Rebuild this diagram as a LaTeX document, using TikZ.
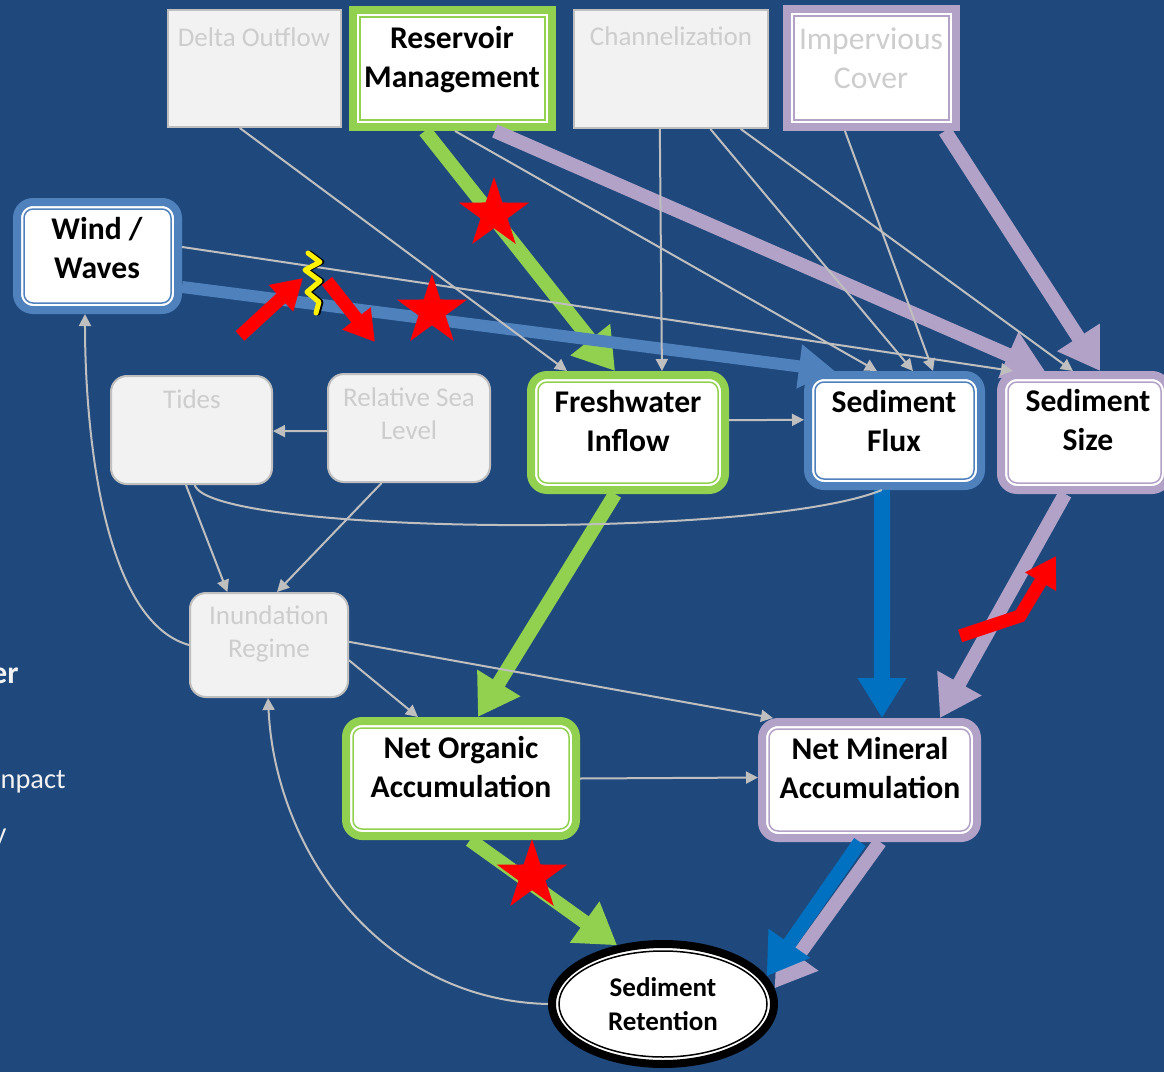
\documentclass[tikz,border=0pt]{standalone}
\usepackage{fontspec}
\setmainfont{Carlito}
\usetikzlibrary{arrows.meta,shapes.geometric,calc}

\definecolor{bg}{HTML}{1F497D}
\definecolor{grn}{HTML}{92D050}
\definecolor{prp}{HTML}{B3A2C7}
\definecolor{wblu}{HTML}{4F81BD}
\definecolor{fblu}{HTML}{0070C0}
\definecolor{lnk}{HTML}{BFBFBF}
\definecolor{pale}{HTML}{F2F2F2}
\definecolor{faint}{RGB}{205,205,205}
\definecolor{sidetext}{HTML}{F2F2F2}

\begin{document}
\begin{tikzpicture}[x=0.5pt,y=-0.5pt,
  fancy/.style={draw=#1, line width=4pt, fill=white, inner sep=0pt, outer sep=2pt},
  roundfancy/.style={fancy=#1, rounded corners=8pt},
  greybox/.style={draw=lnk, line width=1pt, fill=pale, inner sep=0pt, outer sep=0.5pt},
  lbl/.style={font=\fontsize{15.8}{19.5}\selectfont\bfseries, align=center, text=black, inner sep=0pt},
  dim/.style={font=\fontsize{13.5}{16.5}\selectfont, align=center, text=faint, inner sep=0pt},
  sidelbl/.style={font=\fontsize{14.2}{17}\selectfont, text=sidetext, inner sep=0pt, anchor=east},
  link/.style={draw=lnk, line width=1pt, -{Triangle[length=6pt,width=6pt]}},
  barelink/.style={draw=lnk, line width=1pt},
  heavy/.style={draw=#1, line width=7pt, -{Triangle[length=20pt,width=24pt]}},
  redarrow/.style={draw=red, line width=6.5pt, -{Triangle[length=15pt,width=17pt]}},
  redstar/.style={star, star points=5, star point ratio=2.6, fill=red, minimum size=37pt, inner sep=0pt}
]
% background and frame
\fill[bg] (0,0) rectangle (1164,1072);
\useasboundingbox (0,0) rectangle (1164,1072);
\clip (0,0) rectangle (1164,1072);

% fragments of side text
\node[sidelbl, font=\fontsize{15.8}{19}\selectfont\bfseries] (s1) at (19,676) {er};
\node[sidelbl] (s2) at (66,782) {npact};
\node[sidelbl] (s3) at (7,838) {y};

% boxes
\node[greybox, minimum width=86.5pt, minimum height=58.5pt] (delta) at (254.5,68.5) {};
\node[fancy=grn, minimum width=99.5pt, minimum height=58.5pt] (res) at (452.5,68.5) {};
\node[greybox, minimum width=97pt, minimum height=59pt] (chan) at (671,69) {};
\node[fancy=prp, minimum width=84.5pt, minimum height=59pt] (imp) at (871.5,68) {};
\node[roundfancy=wblu, minimum width=80.5pt, minimum height=54pt] (wind) at (97.5,256) {};
\node[greybox, rounded corners=8pt, minimum width=80.5pt, minimum height=54pt] (tides) at (191.5,430) {};
\node[greybox, rounded corners=8pt, minimum width=81pt, minimum height=54pt] (rsl) at (409,428) {};
\node[roundfancy=grn, minimum width=97pt, minimum height=57.5pt] (fresh) at (628,432.5) {};
\node[roundfancy=wblu, minimum width=86.5pt, minimum height=55.5pt] (flux) at (894.5,430.5) {};
\node[roundfancy=prp, minimum width=83.5pt, minimum height=57.5pt] (size) at (1084.5,432.5) {};
\node[greybox, rounded corners=8pt, minimum width=79pt, minimum height=52pt] (inun) at (269,645) {};
\node[roundfancy=grn, minimum width=115pt, minimum height=57.5pt] (org) at (461,778.5) {};
\node[roundfancy=prp, minimum width=107.5pt, minimum height=58pt] (min) at (869.5,780) {};
\node[ellipse, draw=black, line width=4pt, fill=white, inner sep=0pt, outer sep=2pt,
      minimum width=111pt, minimum height=60pt] (ret) at (663,1004) {};

% inner rules of the framed boxes
\foreach \n/\c in {res/grn, imp/prp}
  \draw[\c, line width=0.75pt] ([shift={(5.5pt,5.5pt)}]\n.south west) rectangle ([shift={(-5.5pt,-5.5pt)}]\n.north east);
\foreach \n/\c in {wind/wblu, fresh/grn, flux/wblu, size/prp, org/grn, min/prp}
  \draw[\c, line width=0.75pt, rounded corners=4.5pt] ([shift={(5.5pt,5.5pt)}]\n.south west) rectangle ([shift={(-5.5pt,-5.5pt)}]\n.north east);
\draw[black, line width=0.75pt] (ret.center) ellipse [x radius=52pt, y radius=26.5pt];

% labels
\node[dim] (t-delta) at (254,37) {Delta Outflow};
\node[lbl] (t-res) at (452,60) {Reservoir\\Management};
\node[dim] (t-chan) at (671,36) {Channelization};
\node[dim, font=\fontsize{15.8}{19.5}\selectfont] (t-imp) at (871,58) {Impervious\\Cover};
\node[lbl] (t-wind) at (97,248) {Wind /\\Waves};
\node[dim] (t-tides) at (192,399) {Tides};
\node[dim] (t-rsl) at (409,414) {Relative Sea\\Level};
\node[lbl] (t-fresh) at (628,421) {Freshwater\\Inflow};
\node[lbl] (t-flux) at (894,421) {Sediment\\Flux};
\node[lbl] (t-size) at (1088,420) {Sediment\\Size};
\node[dim] (t-inun) at (269,634) {Inundation\\Regime};
\node[lbl] (t-org) at (461,767) {Net Organic\\Accumulation};
\node[lbl] (t-min) at (870,768) {Net Mineral\\Accumulation};
\node[lbl, font=\fontsize{13.5}{17}\selectfont\bfseries] (t-ret) at (663,1004) {Sediment\\Retention};

% strong influences
\draw[heavy=grn] ($(res.south west)!0.367!(res.south east)$) -- ($(fresh.north west)!0.436!(fresh.north east)$);
\draw[heavy=prp] ($(res.south west)!0.705!(res.south east)$) -- ($(size.north west)!0.274!(size.north east)$);
\draw[heavy=prp] ($(imp.south west)!0.915!(imp.south east)$) -- ($(size.north west)!0.589!(size.north east)$);
\draw[heavy=wblu, line width=6pt, -{Triangle[length=18pt,width=21pt]}] ($(wind.north east)!0.767!(wind.south east)$) -- ($(flux.north west)!0.171!(flux.north east)$);
\draw[heavy=grn] ($(fresh.south west)!0.436!(fresh.south east)$) -- ($(org.north west)!0.571!(org.north east)$);
\draw[heavy=fblu, line width=8pt, -{Triangle[length=20pt,width=23pt]}] ($(flux.south west)!0.431!(flux.south east)$) -- ($(min.north west)!0.556!(min.north east)$);
\draw[heavy=prp] ($(size.south west)!0.389!(size.south east)$) -- ($(min.north west)!0.816!(min.north east)$);
\draw[heavy=grn] ($(org.south west)!0.538!(org.south east)$) -- (ret.128);
\draw[heavy=prp] ($(min.south west)!0.547!(min.south east)$) -- (ret.8);
\draw[heavy=fblu] ($(min.south west)!0.457!(min.south east)$) -- (ret.15);

% weak influences
\draw[link] ($(delta.south west)!0.416!(delta.south east)$) -- ($(fresh.north west)!0.198!(fresh.north east)$);
\draw[link] ($(res.south west)!0.512!(res.south east)$) -- ($(flux.north west)!0.403!(flux.north east)$);
\draw[link] ($(chan.south west)!0.443!(chan.south east)$) -- ($(fresh.north west)!0.668!(fresh.north east)$);
\draw[link] ($(chan.south west)!0.701!(chan.south east)$) -- ($(flux.north west)!0.602!(flux.north east)$);
\draw[link] ($(chan.south west)!0.856!(chan.south east)$) -- ($(size.north west)!0.434!(size.north east)$);
\draw[link] ($(imp.south west)!0.350!(imp.south east)$) -- ($(flux.north west)!0.713!(flux.north east)$);
\draw[link] ($(wind.north east)!0.422!(wind.south east)$) -- ($(size.north west)!0.091!(size.north east)$);
\draw[link] ($(fresh.north east)!0.4!(fresh.south east)$) -- ($(flux.north west)!0.41!(flux.south west)$);
\draw[link] ($(rsl.north west)!0.528!(rsl.south west)$) -- ($(tides.north east)!0.51!(tides.south east)$);
\draw[link] ($(rsl.south west)!0.333!(rsl.south east)$) -- ($(inun.north west)!0.55!(inun.north east)$);
\draw[link] ($(tides.south west)!0.466!(tides.south east)$) -- ($(inun.north west)!0.24!(inun.north east)$);
\draw[barelink] ($(tides.south west)!0.52!(tides.south east)$) .. controls (210,535) and (760,540) .. ($(flux.south west)!0.43!(flux.south east)$);
\draw[link] (inun.west) .. controls (100,620) and (85,420) .. ($(wind.south west)!0.426!(wind.south east)$);
\draw[link] ($(inun.north east)!0.644!(inun.south east)$) -- ($(org.north west)!0.319!(org.north east)$);
\draw[link] ($(inun.north east)!0.47!(inun.south east)$) -- ($(min.north west)!0.067!(min.north east)$);
\draw[link] ($(org.north east)!0.5!(org.south east)$) -- ($(min.north west)!0.48!(min.south west)$);
\draw[link] (ret.west) .. controls (380,1000) and (275,850) .. ($(inun.south west)!0.494!(inun.south east)$);

% impact markers
\node[redstar] (star1) at (494,214) {};
\node[redstar] (star2) at (432,311) {};
\node[redstar] (star3) at (532,876) {};
\draw[redarrow] (240,336) -- (303,278);
\draw[redarrow] (327,281) -- (375,342);
\draw[redarrow, line join=miter] (960,636) -- (1020,616) -- (1056,556);
\draw[black, line width=2.5pt, line join=round, line cap=round, xshift=1pt]
  (308,253) -- (320,262) -- (305,270) -- (320,281) -- (307,292) -- (319,302) -- (316,313);
\draw[yellow, line width=2.5pt, line join=round, line cap=round]
  (308,253) -- (320,262) -- (305,270) -- (320,281) -- (307,292) -- (319,302) -- (316,313);
\end{tikzpicture}
\end{document}
